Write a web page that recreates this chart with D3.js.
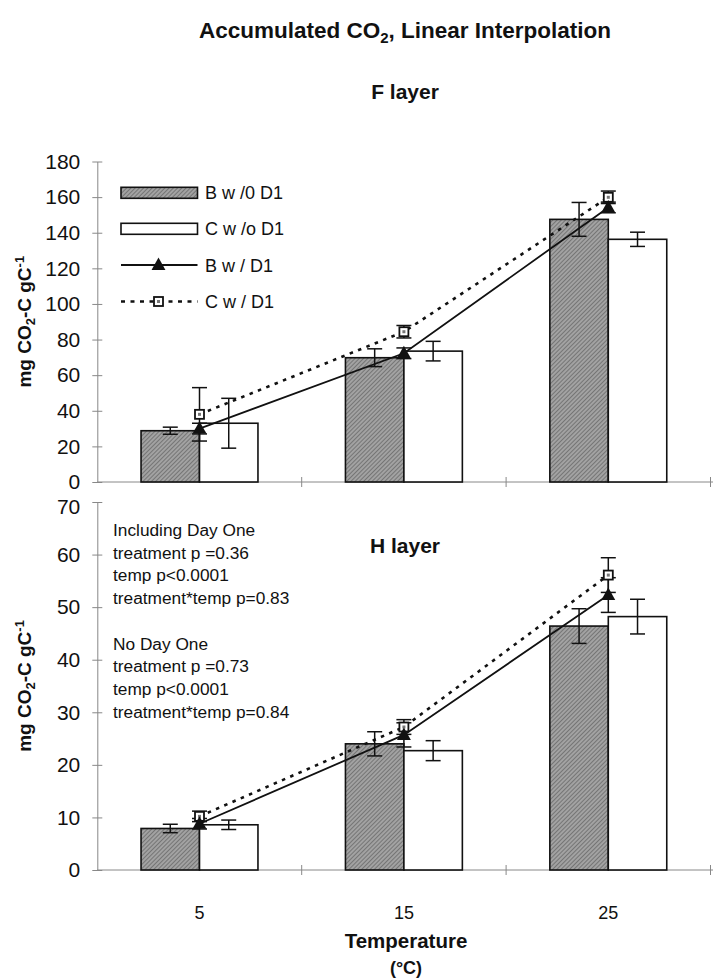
<!DOCTYPE html>
<html>
<head>
<meta charset="utf-8">
<script src="https://cdn.jsdelivr.net/npm/d3@7"></script>
<style>
  body { margin: 0; background: #fff; }
  svg { display: block; }
  text { font-family: Arial, "Liberation Sans", sans-serif; fill: #111; }
</style>
</head>
<body>
<svg id="chart" width="713" height="978"></svg>
<script>
// Temperature categories (°C)
const categories = ["5", "15", "25"];

// F layer: accumulated CO2 (mg CO2-C gC-1) and standard errors
const fBwo = [28.8, 69.8, 147.5];
const fBwoErr = [2, 5, 9.5];
const fCwo = [33, 73.5, 136.3];
const fCwoErr = [14, 5.5, 4];
const fBw = [30, 72.3, 154.2];
const fBwErr = [3, 3, 3];
const fCw = [38, 84.4, 159.9];
const fCwErr = [15, 3.5, 3.5];

// H layer
const hBwo = [7.9, 24, 46.4];
const hBwoErr = [0.8, 2.3, 3.3];
const hCwo = [8.6, 22.7, 48.2];
const hCwoErr = [0.9, 1.9, 3.3];
const hBw = [8.8, 25.7, 52.3];
const hBwErr = [1, 2.3, 3.3];
const hCw = [10.2, 27.2, 56.1];
const hCwErr = [1, 1.4, 3.3];

const fTicks = [0, 20, 40, 60, 80, 100, 120, 140, 160, 180];
const hTicks = [0, 10, 20, 30, 40, 50, 60, 70];

const legendLabels = ["B w /0 D1", "C w /o D1", "B w / D1", "C w / D1"];

const statsText = [
  "Including Day One",
  "treatment p =0.36",
  "temp p<0.0001",
  "treatment*temp p=0.83",
  "",
  "No Day One",
  "treatment p =0.73",
  "temp p<0.0001",
  "treatment*temp p=0.84"
];

const svg = d3.select("#chart");

// Hatched fill for the "B w/0 D1" bars
const defs = svg.append("defs");
const pat = defs.append("pattern")
  .attr("id", "hatch")
  .attr("patternUnits", "userSpaceOnUse")
  .attr("width", 3).attr("height", 3)
  .attr("patternTransform", "rotate(45)");
pat.append("rect").attr("width", 3).attr("height", 3).attr("fill", "#a2a2a2");
pat.append("line").attr("x1", 0).attr("y1", 0).attr("x2", 0).attr("y2", 3)
  .attr("stroke", "#505050").attr("stroke-width", 1.1);

const plotLeft = 97.3, plotRight = 710.5;
const x = d3.scaleBand().domain(categories).range([plotLeft, plotRight]);
const barW = x.bandwidth() * 0.286;
const cx = c => x(c) + x.bandwidth() / 2;

function trianglePath(px, py, s) {
  return `M${px},${py - s * 0.62}L${px + s * 0.58},${py + s * 0.42}L${px - s * 0.58},${py + s * 0.42}Z`;
}

function drawSquare(g, px, py) {
  g.append("rect").attr("x", px - 4.5).attr("y", py - 4.5)
    .attr("width", 9).attr("height", 9)
    .attr("fill", "#fff").attr("stroke", "#111").attr("stroke-width", 1.8);
  g.append("rect").attr("x", px - 1.5).attr("y", py - 1.5)
    .attr("width", 3).attr("height", 3).attr("fill", "#777");
}

function errorBar(g, px, yScale, v, e) {
  const y1 = yScale(v + e), y2 = yScale(v - e);
  g.append("line").attr("x1", px).attr("x2", px).attr("y1", y1).attr("y2", y2)
    .attr("stroke", "#111").attr("stroke-width", 1.5);
  [y1, y2].forEach(yy => g.append("line")
    .attr("x1", px - 7.5).attr("x2", px + 7.5).attr("y1", yy).attr("y2", yy)
    .attr("stroke", "#111").attr("stroke-width", 1.5));
}

function drawPanel(cfg) {
  const y = d3.scaleLinear().domain([0, cfg.max]).range([cfg.bottom, cfg.top]);
  const g = svg.append("g");

  // y axis with crossing ticks
  const ya = g.append("g").attr("transform", `translate(${plotLeft},0)`)
    .call(d3.axisLeft(y).tickValues(cfg.ticks).tickSize(5).tickPadding(12).tickSizeOuter(0));
  ya.select(".domain").attr("stroke", "#888").attr("stroke-width", 1);
  ya.selectAll(".tick line").attr("x1", 5).attr("x2", -5).attr("stroke", "#888");
  ya.selectAll(".tick text").attr("font-size", 21).attr("font-family", "Arial, 'Liberation Sans', sans-serif").attr("fill", "#111");
  // keep the top label clear of the panel above
  ya.selectAll(".tick text").filter(d => d === cfg.max && cfg.nudgeTop)
    .attr("dy", "0.55em");

  // x axis with crossing ticks at category boundaries
  const bounds = categories.map(c => x(c)).concat([plotRight]);
  g.append("line").attr("x1", plotLeft).attr("x2", 713)
    .attr("y1", cfg.bottom).attr("y2", cfg.bottom)
    .attr("stroke", "#888").attr("stroke-width", 1);
  bounds.slice(1).forEach(b => g.append("line")
    .attr("x1", b).attr("x2", b).attr("y1", cfg.bottom - 5).attr("y2", cfg.bottom + 5)
    .attr("stroke", "#888").attr("stroke-width", 1));

  // bars
  categories.forEach((c, i) => {
    g.append("rect").attr("x", cx(c) - barW).attr("y", y(cfg.bwo[i]))
      .attr("width", barW).attr("height", y(0) - y(cfg.bwo[i]))
      .attr("fill", "url(#hatch)").attr("stroke", "#111").attr("stroke-width", 1.6);
    g.append("rect").attr("x", cx(c)).attr("y", y(cfg.cwo[i]))
      .attr("width", barW).attr("height", y(0) - y(cfg.cwo[i]))
      .attr("fill", "#fff").attr("stroke", "#111").attr("stroke-width", 1.6);
  });
  categories.forEach((c, i) => {
    errorBar(g, cx(c) - barW / 2, y, cfg.bwo[i], cfg.bwoErr[i]);
    errorBar(g, cx(c) + barW / 2, y, cfg.cwo[i], cfg.cwoErr[i]);
  });

  // line series
  const line = d3.line().x((d, i) => cx(categories[i])).y(d => y(d));
  g.append("path").attr("d", line(cfg.cw)).attr("fill", "none")
    .attr("stroke", "#111").attr("stroke-width", 2.6).attr("stroke-dasharray", "3.5,5.5");
  g.append("path").attr("d", line(cfg.bw)).attr("fill", "none")
    .attr("stroke", "#111").attr("stroke-width", 1.8);
  categories.forEach((c, i) => {
    errorBar(g, cx(c), y, cfg.cw[i], cfg.cwErr[i]);
    errorBar(g, cx(c), y, cfg.bw[i], cfg.bwErr[i]);
  });
  categories.forEach((c, i) => {
    drawSquare(g, cx(c), y(cfg.cw[i]));
    g.append("path").attr("d", trianglePath(cx(c), y(cfg.bw[i]), 12)).attr("fill", "#111");
  });

  // panel title
  g.append("text").attr("x", 405).attr("y", cfg.titleY)
    .attr("text-anchor", "middle").attr("font-size", 21).attr("font-weight", "bold")
    .text(cfg.title);

  // y axis title
  const yt = g.append("text")
    .attr("transform", `translate(31,${(cfg.top + cfg.bottom) / 2}) rotate(-90)`)
    .attr("text-anchor", "middle").attr("font-size", 19).attr("font-weight", "bold");
  yt.append("tspan").text("mg CO");
  yt.append("tspan").attr("font-size", 13).attr("dy", 4).text("2");
  yt.append("tspan").attr("dy", -4).text("-C gC");
  yt.append("tspan").attr("font-size", 13).attr("dy", -7).text("-1");

  return y;
}

// main title
const title = svg.append("text").attr("x", 405).attr("y", 38)
  .attr("text-anchor", "middle").attr("font-size", 22.5).attr("font-weight", "bold");
title.append("tspan").text("Accumulated CO");
title.append("tspan").attr("font-size", 15).attr("dy", 5).text("2");
title.append("tspan").attr("dy", -5).text(", Linear Interpolation");

drawPanel({
  max: 180, top: 161.5, bottom: 482, ticks: fTicks,
  bwo: fBwo, bwoErr: fBwoErr, cwo: fCwo, cwoErr: fCwoErr,
  bw: fBw, bwErr: fBwErr, cw: fCw, cwErr: fCwErr,
  title: "F layer", titleY: 99, nudgeTop: false
});

drawPanel({
  max: 70, top: 502, bottom: 870, ticks: hTicks,
  bwo: hBwo, bwoErr: hBwoErr, cwo: hCwo, cwoErr: hCwoErr,
  bw: hBw, bwErr: hBwErr, cw: hCw, cwErr: hCwErr,
  title: "H layer", titleY: 553, nudgeTop: true
});

// legend
const lg = svg.append("g");
const rowY = [192.8, 228.8, 265, 301.5];
const lx0 = 121, lx1 = 197.5, lmid = 158.5;
lg.append("rect").attr("x", lx0).attr("y", rowY[0] - 5.5).attr("width", lx1 - lx0).attr("height", 11)
  .attr("fill", "url(#hatch)").attr("stroke", "#111").attr("stroke-width", 1.6);
lg.append("rect").attr("x", lx0).attr("y", rowY[1] - 5.5).attr("width", lx1 - lx0).attr("height", 11)
  .attr("fill", "#fff").attr("stroke", "#111").attr("stroke-width", 1.6);
lg.append("line").attr("x1", lx0).attr("x2", lx1).attr("y1", rowY[2]).attr("y2", rowY[2])
  .attr("stroke", "#111").attr("stroke-width", 1.8);
lg.append("path").attr("d", trianglePath(lmid, rowY[2], 12)).attr("fill", "#111");
lg.append("line").attr("x1", lx0).attr("x2", lx1).attr("y1", rowY[3]).attr("y2", rowY[3])
  .attr("stroke", "#111").attr("stroke-width", 2.4).attr("stroke-dasharray", "4,5.5");
drawSquare(lg, lmid, rowY[3]);
legendLabels.forEach((t, i) => lg.append("text")
  .attr("x", 205).attr("y", rowY[i] + 6.5).attr("font-size", 18).text(t));

// statistics annotation in the H layer panel
statsText.forEach((t, i) => {
  if (t) svg.append("text").attr("x", 113).attr("y", 536 + i * 22.7)
    .attr("font-size", 17.3).text(t);
});

// x axis labels and title
categories.forEach(c => svg.append("text").attr("x", cx(c)).attr("y", 919)
  .attr("text-anchor", "middle").attr("font-size", 18).text(c));
svg.append("text").attr("x", 406).attr("y", 948).attr("text-anchor", "middle")
  .attr("font-size", 20.5).attr("font-weight", "bold").text("Temperature");
svg.append("text").attr("x", 406).attr("y", 974).attr("text-anchor", "middle")
  .attr("font-size", 18).attr("font-weight", "bold").text("(°C)");
</script>
</body>
</html>
